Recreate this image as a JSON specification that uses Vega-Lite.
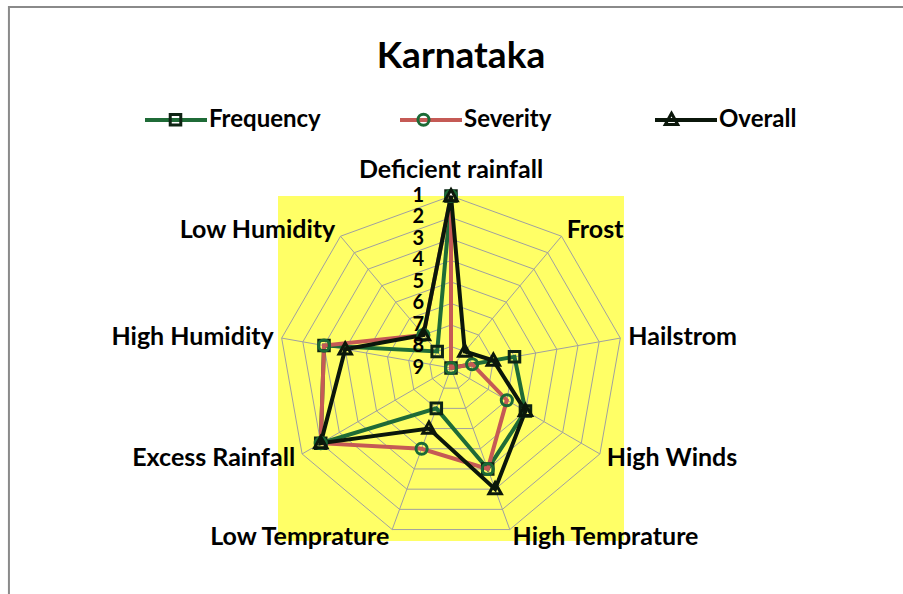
{
  "$schema": "https://vega.github.io/schema/vega-lite/v6.json",
  "width": 346,
  "height": 345,
  "autosize": {"type": "none"},
  "padding": {"left": 278, "top": 196, "right": 279, "bottom": 53},
  "background": "white",
  "config": {
    "view": {"fill": "#ffff66", "stroke": null},
    "text": {"font": "Lato", "fontWeight": "bold", "color": "black"}
  },
  "title": {
    "text": "Karnataka",
    "frame": "group",
    "anchor": "middle",
    "orient": "top",
    "baseline": "alphabetic",
    "offset": -99,
    "dx": 10,
    "font": "Lato",
    "fontSize": 37,
    "fontWeight": "bold",
    "color": "black"
  },
  "datasets": {
    "axes": [
      {"axis": "Deficient rainfall", "idx": 0, "rings": [1, 2, 3, 4, 5, 6, 7, 8]},
      {"axis": "Frost", "idx": 1, "rings": [1, 2, 3, 4, 5, 6, 7, 8]},
      {"axis": "Hailstrom", "idx": 2, "rings": [1, 2, 3, 4, 5, 6, 7, 8]},
      {"axis": "High Winds", "idx": 3, "rings": [1, 2, 3, 4, 5, 6, 7, 8]},
      {"axis": "High Temprature", "idx": 4, "rings": [1, 2, 3, 4, 5, 6, 7, 8]},
      {"axis": "Low Temprature", "idx": 5, "rings": [1, 2, 3, 4, 5, 6, 7, 8]},
      {"axis": "Excess Rainfall", "idx": 6, "rings": [1, 2, 3, 4, 5, 6, 7, 8]},
      {"axis": "High Humidity", "idx": 7, "rings": [1, 2, 3, 4, 5, 6, 7, 8]},
      {"axis": "Low Humidity", "idx": 8, "rings": [1, 2, 3, 4, 5, 6, 7, 8]}
    ],
    "ranks": [
      {"rank": 1}, {"rank": 2}, {"rank": 3}, {"rank": 4}, {"rank": 5},
      {"rank": 6}, {"rank": 7}, {"rank": 8}, {"rank": 9}
    ],
    "scores": [
      {"series": "Frequency", "axis": "Deficient rainfall", "rank": 1},
      {"series": "Frequency", "axis": "Frost", "rank": 9},
      {"series": "Frequency", "axis": "Hailstrom", "rank": 6},
      {"series": "Frequency", "axis": "High Winds", "rank": 5},
      {"series": "Frequency", "axis": "High Temprature", "rank": 4},
      {"series": "Frequency", "axis": "Low Temprature", "rank": 7},
      {"series": "Frequency", "axis": "Excess Rainfall", "rank": 2},
      {"series": "Frequency", "axis": "High Humidity", "rank": 3},
      {"series": "Frequency", "axis": "Low Humidity", "rank": 8},
      {"series": "Severity", "axis": "Deficient rainfall", "rank": 1},
      {"series": "Severity", "axis": "Frost", "rank": 9},
      {"series": "Severity", "axis": "Hailstrom", "rank": 8},
      {"series": "Severity", "axis": "High Winds", "rank": 6},
      {"series": "Severity", "axis": "High Temprature", "rank": 4},
      {"series": "Severity", "axis": "Low Temprature", "rank": 5},
      {"series": "Severity", "axis": "Excess Rainfall", "rank": 2},
      {"series": "Severity", "axis": "High Humidity", "rank": 3},
      {"series": "Severity", "axis": "Low Humidity", "rank": 7},
      {"series": "Overall", "axis": "Deficient rainfall", "rank": 1},
      {"series": "Overall", "axis": "Frost", "rank": 8},
      {"series": "Overall", "axis": "Hailstrom", "rank": 7},
      {"series": "Overall", "axis": "High Winds", "rank": 5},
      {"series": "Overall", "axis": "High Temprature", "rank": 3},
      {"series": "Overall", "axis": "Low Temprature", "rank": 6},
      {"series": "Overall", "axis": "Excess Rainfall", "rank": 2},
      {"series": "Overall", "axis": "High Humidity", "rank": 4},
      {"series": "Overall", "axis": "Low Humidity", "rank": 7}
    ]
  },
  "layer": [
    {
      "data": {"values": [{}]},
      "mark": {"type": "rect", "fillOpacity": 0, "stroke": "#8a8a8a", "strokeWidth": 2, "clip": false},
      "encoding": {
        "x": {"datum": -20.57, "type": "quantitative", "scale": {"domain": [-8.05, 8.05], "nice": false, "zero": false}, "axis": null},
        "x2": {"datum": 30},
        "y": {"datum": 16.79, "type": "quantitative", "scale": {"domain": [-8.05, 8.0], "nice": false, "zero": false}, "axis": null},
        "y2": {"datum": -30}
      }
    },
    {
      "data": {"name": "axes"},
      "transform": [
        {"flatten": ["rings"], "as": ["lv"]},
        {"calculate": "datum.idx * 2 * PI / 9", "as": "a"},
        {"calculate": "datum.lv * sin(datum.a)", "as": "gx"},
        {"calculate": "datum.lv * cos(datum.a)", "as": "gy"}
      ],
      "mark": {"type": "line", "interpolate": "linear-closed", "stroke": "#a0a0a0", "strokeWidth": 1},
      "encoding": {
        "x": {"field": "gx", "type": "quantitative", "scale": {"domain": [-8.05, 8.05], "nice": false, "zero": false}, "axis": null},
        "y": {"field": "gy", "type": "quantitative", "scale": {"domain": [-8.05, 8.0], "nice": false, "zero": false}, "axis": null},
        "detail": {"field": "lv", "type": "nominal"},
        "order": {"field": "idx", "type": "quantitative"}
      }
    },
    {
      "data": {"name": "axes"},
      "transform": [
        {"calculate": "datum.idx * 2 * PI / 9", "as": "a"},
        {"calculate": "0", "as": "cx"},
        {"calculate": "8 * sin(datum.a)", "as": "ex"},
        {"calculate": "8 * cos(datum.a)", "as": "ey"}
      ],
      "mark": {"type": "rule", "stroke": "#a0a0a0", "strokeWidth": 1},
      "encoding": {
        "x": {"field": "cx", "type": "quantitative", "scale": {"domain": [-8.05, 8.05], "nice": false, "zero": false}, "axis": null},
        "y": {"field": "cx", "type": "quantitative", "scale": {"domain": [-8.05, 8.0], "nice": false, "zero": false}, "axis": null},
        "x2": {"field": "ex"},
        "y2": {"field": "ey"}
      }
    },
    {
      "data": {"name": "scores"},
      "transform": [
        {"lookup": "axis", "from": {"data": {"name": "axes"}, "key": "axis", "fields": ["idx"]}},
        {"calculate": "datum.idx * 2 * PI / 9", "as": "a"},
        {"calculate": "(9 - datum.rank) * sin(datum.a)", "as": "px"},
        {"calculate": "(9 - datum.rank) * cos(datum.a)", "as": "py"}
      ],
      "mark": {"type": "line", "interpolate": "linear-closed", "strokeWidth": 4},
      "encoding": {
        "x": {"field": "px", "type": "quantitative", "scale": {"domain": [-8.05, 8.05], "nice": false, "zero": false}, "axis": null},
        "y": {"field": "py", "type": "quantitative", "scale": {"domain": [-8.05, 8.0], "nice": false, "zero": false}, "axis": null},
        "order": {"field": "idx", "type": "quantitative"},
        "stroke": {
          "field": "series", "type": "nominal",
          "sort": ["Frequency", "Severity", "Overall"],
          "scale": {"range": ["#1f6b37", "#c55a55", "#0b170b"]},
          "legend": {
            "orient": "none", "legendX": -135, "legendY": -109, "direction": "horizontal", "title": null,
            "symbolType": "stroke", "symbolSize": 3844, "symbolStrokeWidth": 4,
            "labelFont": "Lato", "labelFontSize": 24, "labelFontWeight": "bold", "labelColor": "black",
            "labelOffset": 0, "columnPadding": 71, "gridAlign": "all"
          }
        }
      }
    },
    {
      "data": {"name": "scores"},
      "transform": [
        {"lookup": "axis", "from": {"data": {"name": "axes"}, "key": "axis", "fields": ["idx"]}},
        {"calculate": "datum.idx * 2 * PI / 9", "as": "a"},
        {"calculate": "(9 - datum.rank) * sin(datum.a)", "as": "px"},
        {"calculate": "(9 - datum.rank) * cos(datum.a)", "as": "py"}
      ],
      "mark": {"type": "point", "filled": false, "strokeWidth": 3, "size": 3844, "opacity": 1},
      "encoding": {
        "x": {"field": "px", "type": "quantitative", "scale": {"domain": [-8.05, 8.05], "nice": false, "zero": false}, "axis": null},
        "y": {"field": "py", "type": "quantitative", "scale": {"domain": [-8.05, 8.0], "nice": false, "zero": false}, "axis": null},
        "color": {
          "field": "series", "type": "nominal",
          "scale": {"domain": ["Frequency", "Severity", "Overall"], "range": ["#0e2414", "#1b6a36", "#0b170b"]},
          "legend": {
            "orient": "none", "legendX": -135, "legendY": -109, "direction": "horizontal", "title": null,
            "symbolSize": 3844, "symbolStrokeWidth": 3,
            "labelFont": "Lato", "labelFontSize": 24, "labelFontWeight": "bold", "labelColor": "black", "labelOpacity": 0,
            "labelOffset": 0, "columnPadding": 71, "gridAlign": "all"
          }
        },
        "shape": {
          "field": "series", "type": "nominal",
          "scale": {"domain": ["Frequency", "Severity", "Overall"], "range": [
            "M-0.17,-0.17H0.17V0.17H-0.17Z",
            "M-0.18,0A0.18,0.18,0,1,0,0.18,0A0.18,0.18,0,1,0,-0.18,0Z",
            "M0,-0.21L0.2,0.15L-0.2,0.15Z"
          ]},
          "legend": {
            "orient": "none", "legendX": -135, "legendY": -109, "direction": "horizontal", "title": null,
            "symbolSize": 3844, "symbolStrokeWidth": 3,
            "labelFont": "Lato", "labelFontSize": 24, "labelFontWeight": "bold", "labelColor": "black", "labelOpacity": 0,
            "labelOffset": 0, "columnPadding": 71, "gridAlign": "all"
          }
        }
      }
    },
    {
      "data": {"name": "axes"},
      "transform": [
        {"filter": "datum.idx >= 1 && datum.idx <= 4"},
        {"calculate": "datum.idx * 2 * PI / 9", "as": "a"},
        {"calculate": "8.375 * sin(datum.a)", "as": "lx"},
        {"calculate": "8.375 * cos(datum.a)", "as": "ly"}
      ],
      "mark": {"type": "text", "align": "left", "baseline": "middle", "fontSize": 25},
      "encoding": {
        "x": {"field": "lx", "type": "quantitative", "scale": {"domain": [-8.05, 8.05], "nice": false, "zero": false}, "axis": null},
        "y": {"field": "ly", "type": "quantitative", "scale": {"domain": [-8.05, 8.0], "nice": false, "zero": false}, "axis": null},
        "text": {"field": "axis", "type": "nominal"}
      }
    },
    {
      "data": {"name": "axes"},
      "transform": [
        {"filter": "datum.idx >= 5"},
        {"calculate": "datum.idx * 2 * PI / 9", "as": "a"},
        {"calculate": "8.375 * sin(datum.a)", "as": "lx"},
        {"calculate": "8.375 * cos(datum.a)", "as": "ly"}
      ],
      "mark": {"type": "text", "align": "right", "baseline": "middle", "fontSize": 25},
      "encoding": {
        "x": {"field": "lx", "type": "quantitative", "scale": {"domain": [-8.05, 8.05], "nice": false, "zero": false}, "axis": null},
        "y": {"field": "ly", "type": "quantitative", "scale": {"domain": [-8.05, 8.0], "nice": false, "zero": false}, "axis": null},
        "text": {"field": "axis", "type": "nominal"}
      }
    },
    {
      "data": {"name": "axes"},
      "transform": [
        {"filter": "datum.idx == 0"},
        {"calculate": "0", "as": "lx"},
        {"calculate": "8.375", "as": "ly"}
      ],
      "mark": {"type": "text", "align": "center", "baseline": "middle", "fontSize": 25, "dy": -18},
      "encoding": {
        "x": {"field": "lx", "type": "quantitative", "scale": {"domain": [-8.05, 8.05], "nice": false, "zero": false}, "axis": null},
        "y": {"field": "ly", "type": "quantitative", "scale": {"domain": [-8.05, 8.0], "nice": false, "zero": false}, "axis": null},
        "text": {"field": "axis", "type": "nominal"}
      }
    },
    {
      "data": {"name": "ranks"},
      "transform": [
        {"calculate": "0", "as": "rx"},
        {"calculate": "9 - datum.rank", "as": "ry"}
      ],
      "mark": {"type": "text", "align": "right", "baseline": "middle", "fontSize": 20, "dx": -27},
      "encoding": {
        "x": {"field": "rx", "type": "quantitative", "scale": {"domain": [-8.05, 8.05], "nice": false, "zero": false}, "axis": null},
        "y": {"field": "ry", "type": "quantitative", "scale": {"domain": [-8.05, 8.0], "nice": false, "zero": false}, "axis": null},
        "text": {"field": "rank", "type": "quantitative"}
      }
    }
  ]
}
